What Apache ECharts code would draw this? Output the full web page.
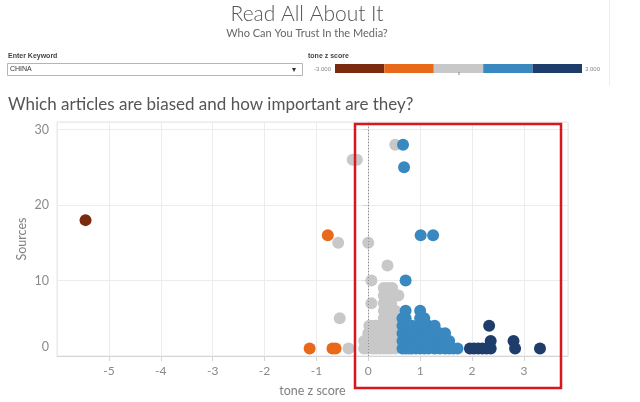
<!DOCTYPE html>
<html>
<head>
<meta charset="utf-8">
<script src="https://cdn.jsdelivr.net/npm/echarts@6/dist/echarts.min.js"></script>
<style>
html,body{margin:0;padding:0;background:#fff;}
#c{width:640px;height:402px;}
</style>
</head>
<body>
<div id="c"></div>
<script>
// ---- data ----
const xTicks = [-5, -4, -3, -2, -1, 0, 1, 2, 3];
const yTicks = [0, 10, 20, 30];
const legendLabels = ['-3.000', '3.000'];
const legendColors = ['#7a2a10', '#e8691a', '#c8c8c8', '#3a88c0', '#1f3d6b'];

// [tone z score, sources]
const brownPoints = [[-5.45, 18]];
const orangePoints = [[-0.78, 16], [-1.13, 1], [-0.69, 1], [-0.63, 1]];
const grayPoints = [
  [-0.30, 26], [-0.22, 26], [0.52, 28], [-0.58, 15], [0.0, 15], [0.37, 12],
  [0.06, 10], [0.06, 7], [-0.55, 5], [0.58, 8],
  [0.30, 9], [0.38, 9], [0.46, 9],
  [0.30, 1], [0.30, 2], [0.30, 3], [0.30, 4], [0.30, 5], [0.30, 6], [0.30, 7], [0.30, 8],
  [0.37, 1], [0.37, 2], [0.37, 3], [0.37, 4], [0.37, 5], [0.37, 6], [0.37, 7], [0.37, 8],
  [0.44, 1], [0.44, 2], [0.44, 3], [0.44, 4], [0.44, 5], [0.44, 6], [0.44, 7], [0.44, 8],
  [0.52, 1], [0.52, 2], [0.52, 3], [0.52, 4], [0.52, 5], [0.52, 6],
  [-0.38, 1], [-0.08, 1], [-0.08, 2], [0.0, 1], [0.0, 2], [0.0, 3], [0.02, 4],
  [0.08, 1], [0.08, 2], [0.08, 3], [0.08, 4], [0.15, 1], [0.15, 2], [0.15, 3], [0.15, 4],
  [0.22, 1], [0.22, 2], [0.22, 3], [0.22, 4]
];
const bluePoints = [
  [0.67, 28], [0.69, 25], [1.01, 16], [1.25, 16], [0.72, 10],
  [0.66, 1], [0.66, 2], [0.66, 3], [0.66, 4], [0.66, 5],
  [0.72, 1], [0.72, 2], [0.72, 3], [0.72, 4], [0.72, 5], [0.72, 6],
  [0.78, 1], [0.78, 2], [0.78, 3], [0.84, 1], [0.84, 2], [0.84, 3], [0.84, 4],
  [0.92, 1], [0.92, 2], [0.92, 3],
  [1.0, 1], [1.0, 2], [1.0, 3], [1.0, 4], [1.0, 5], [1.0, 6],
  [1.08, 1], [1.08, 2], [1.08, 3], [1.08, 4], [1.08, 5],
  [1.16, 1], [1.16, 2], [1.16, 3], [1.16, 4],
  [1.28, 1], [1.28, 2], [1.28, 3], [1.28, 4],
  [1.38, 1], [1.38, 2], [1.38, 3], [1.48, 1], [1.48, 2], [1.48, 3],
  [1.56, 1], [1.56, 2], [1.64, 1], [1.72, 1]
];
const navyPoints = [
  [1.96, 1], [2.04, 1], [2.12, 1], [2.2, 1], [2.28, 1], [2.36, 1],
  [2.33, 4], [2.36, 2], [2.80, 2], [2.83, 1], [3.31, 1]
];

const FONT = 'Lato, "Open Sans", sans-serif';
const chart = echarts.init(document.getElementById('c'), null, {renderer: 'canvas'});

function sc(name, data, color) {
  return {
    name, type: 'scatter', data, symbolSize: 12,
    itemStyle: {color, opacity: 1},
    emphasis: {disabled: true}, animation: false
  };
}

const legendX0 = 335, legendW = 49.4;
const legendRects = legendColors.map((c, i) => ({
  type: 'rect', shape: {x: legendX0 + i * legendW, y: 64, width: legendW, height: 9},
  style: {fill: c}, silent: true
}));

chart.setOption({
  animation: false,
  backgroundColor: '#fff',
  grid: {left: 57, right: 72, top: 122, bottom: 43, show: true, borderColor: '#e4e4e4', borderWidth: 1},
  xAxis: {
    type: 'value', min: -6, max: 3.85, interval: 1,
    name: 'tone z score', nameLocation: 'middle', nameGap: 28,
    nameTextStyle: {color: '#808080', fontSize: 12.5, fontFamily: FONT},
    axisLine: {show: true, lineStyle: {color: '#d6d6d6'}},
    axisTick: {show: true, length: 5, lineStyle: {color: '#d6d6d6'}},
    axisLabel: {color: '#8a8a8a', fontSize: 12, fontFamily: FONT, margin: 9, showMinLabel: false, showMaxLabel: false,
      formatter: v => xTicks.includes(v) ? String(v) : ''},
    splitLine: {show: true, lineStyle: {color: '#ececec'}}
  },
  yAxis: {
    type: 'value', min: 0, max: 31, interval: 10,
    name: 'Sources', nameLocation: 'middle', nameGap: 29, nameMoveOverlap: false,
    nameTextStyle: {color: '#808080', fontSize: 12.5, fontFamily: FONT},
    axisLine: {show: true, lineStyle: {color: '#d6d6d6'}},
    axisTick: {show: true, length: 6, lineStyle: {color: '#d6d6d6'}},
    axisLabel: {color: '#8a8a8a', fontSize: 12.5, fontFamily: FONT, margin: 8, showMaxLabel: false,
      formatter: v => v === 0 ? '{z|0}' : (yTicks.includes(v) ? String(v) : ''),
      rich: {z: {padding: [0, 0, 18, 0], color: '#8a8a8a', fontSize: 12.5, fontFamily: FONT}}},
    splitLine: {show: true, lineStyle: {color: '#ececec'}}
  },
  series: [
    Object.assign(sc('gray', grayPoints, '#c8c8c8'), {
      markLine: {
        silent: true, symbol: 'none', animation: false,
        label: {show: false},
        lineStyle: {color: '#8f8f8f', type: [1, 2], width: 1},
        data: [{xAxis: 0}]
      }
    }),
    sc('orange', orangePoints, '#e8691a'),
    sc('brown', brownPoints, '#7a2a10'),
    sc('blue', bluePoints, '#3a88c0'),
    sc('navy', navyPoints, '#1f3d6b')
  ],
  graphic: [
    {type: 'text', style: {text: 'Read All About It', x: 307, y: 14, align: 'center', verticalAlign: 'middle', font: '300 21px ' + FONT, fill: '#555'}},
    {type: 'text', style: {text: 'Who Can You Trust In the Media?', x: 307, y: 33, align: 'center', verticalAlign: 'middle', font: '11px ' + FONT, fill: '#666'}},
    {type: 'text', style: {text: 'Enter Keyword', x: 8, y: 56, verticalAlign: 'middle', font: 'bold 7px "Liberation Sans", Arial, sans-serif', fill: '#444'}},
    {type: 'rect', shape: {x: 7.5, y: 63.5, width: 295, height: 12}, style: {fill: '#fff', stroke: '#b5b5b5', lineWidth: 1}},
    {type: 'text', style: {text: 'CHINA', x: 10, y: 69.5, verticalAlign: 'middle', font: '7px "Liberation Sans", Arial, sans-serif', fill: '#333'}},
    {type: 'text', style: {text: '▾', x: 294, y: 69.5, align: 'center', verticalAlign: 'middle', font: '8px "DejaVu Sans", sans-serif', fill: '#333'}},
    {type: 'text', style: {text: 'tone z score', x: 308, y: 56, verticalAlign: 'middle', font: 'bold 7px "Liberation Sans", Arial, sans-serif', fill: '#444'}},
    {type: 'text', style: {text: legendLabels[0], x: 331, y: 69, align: 'right', verticalAlign: 'middle', font: '6px "Liberation Sans", Arial, sans-serif', fill: '#888'}},
    {type: 'text', style: {text: legendLabels[1], x: 585, y: 69, align: 'left', verticalAlign: 'middle', font: '6px "Liberation Sans", Arial, sans-serif', fill: '#888'}},
    ...legendRects,
    {type: 'line', shape: {x1: 459, y1: 72, x2: 459, y2: 75}, style: {stroke: '#888', lineWidth: 1}},
    {type: 'line', shape: {x1: 609.5, y1: 0, x2: 609.5, y2: 86}, style: {stroke: '#ececec', lineWidth: 1}},
    {type: 'text', style: {text: 'Which articles are biased and how important are they?', x: 8, y: 105, verticalAlign: 'middle', font: '17px ' + FONT, fill: '#555'}},
    {type: 'rect', z: 100, shape: {x: 355, y: 124, width: 206, height: 264}, style: {fill: 'none', stroke: '#d8161c', lineWidth: 2.5}}
  ]
});
</script>
</body>
</html>
